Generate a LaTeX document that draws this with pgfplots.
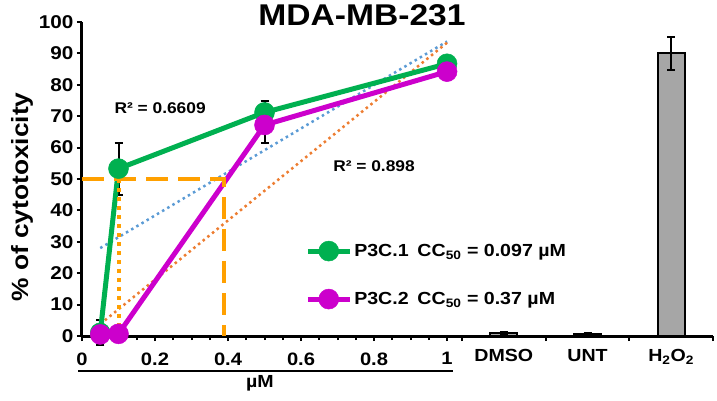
\documentclass[border=0pt]{standalone}
\usepackage{pgfplots}
\pgfplotsset{compat=1.18}
\usepackage{fontspec}
\setmainfont{Liberation Sans}[FakeStretch=1.12]
\definecolor{pgreen}{RGB}{0,176,80}
\definecolor{pmag}{RGB}{204,0,204}
\definecolor{tblue}{RGB}{91,155,213}
\definecolor{torange}{RGB}{237,125,49}
\definecolor{ccor}{RGB}{255,160,0}
\definecolor{barg}{RGB}{166,166,166}
\begin{document}
\begin{tikzpicture}
\path[use as bounding box] (-82pt,-64pt) rectangle (635pt,336pt);
\begin{axis}[
  at={(0pt,0pt)}, anchor=south west, scale only axis,
  width=380pt, height=314pt,
  xmin=0, xmax=1.041, ymin=0, ymax=100,
  axis x line=bottom, axis y line=left,
  axis line style={-, line width=3pt, black},
  xtick={0,0.2,0.4,0.6,0.8,1},
  xticklabels={0,0.2,0.4,0.6,0.8,1},
  minor xtick={0.05,0.1,0.15,0.25,0.3,0.35,0.45,0.5,0.55,0.65,0.7,0.75,0.85,0.9,0.95,1.0},
  ytick={0,10,...,100},
  tick align=outside, major tick length=5pt, minor tick length=4pt,
  every tick/.style={line width=2pt, black},
  /pgf/number format/assume math mode=true,
  yticklabel style={font=\fontsize{18.5}{21}\selectfont\bfseries},
  xticklabel style={font=\fontsize{18}{21}\selectfont\bfseries, yshift=-8pt},
  clip=false,
  legend style={at={(0.587,0.194)}, anchor=west, draw=none, fill=none,
    font=\fontsize{17.5}{20}\selectfont\bfseries, row sep=28pt, inner sep=0pt},
  legend cell align=left,
  legend image code/.code={\draw[mark repeat=2,mark phase=2,#1] plot coordinates {(0pt,0pt) (21pt,0pt) (42pt,0pt)};},
]
% trendlines
\addplot[forget plot, tblue, line width=2.5pt, dash pattern=on 2.5pt off 3.5pt] coordinates {(0.05,28) (1,93.8)};
\addplot[forget plot, torange, line width=2.5pt, dash pattern=on 2.5pt off 3.5pt] coordinates {(0.05,3.8) (1,93.4)};
% error bars
\addplot[forget plot, draw=none, error bars/.cd, y dir=both, y explicit,
  error bar style={draw=black, line width=2pt},
  error mark options={draw=black, line width=2pt, rotate=90, mark size=4pt}]
  coordinates {(0.05,1) +- (0,4) (0.1,53.3) +- (0,8.3) (0.5,71.2) +- (0,3.6) (1,86.7) +- (0,1.5)};
\addplot[forget plot, draw=none, error bars/.cd, y dir=both, y explicit,
  error bar style={draw=black, line width=2pt},
  error mark options={draw=black, line width=2pt, rotate=90, mark size=4pt}]
  coordinates {(0.05,0.5) +- (0,0.5) (0.1,0.7) +- (0,0.5) (0.5,67.2) +- (0,5.8) (1,84.2) +- (0,1)};
% series
\addplot[pgreen, line width=5pt, mark=*, mark size=10pt, mark options={fill=pgreen, draw=pgreen, line width=0.5pt}]
  coordinates {(0.05,1) (0.1,53.3) (0.5,71.2) (1,86.7)};
\addlegendentry{P3C.1\enspace CC\textsubscript{50} = 0.097 µM}
\addplot[pmag, line width=5pt, mark=*, mark size=10pt, mark options={fill=pmag, draw=pmag, line width=0.5pt}]
  coordinates {(0.05,0.5) (0.1,0.7) (0.5,67.2) (1,84.2)};
\addlegendentry{P3C.2\enspace CC\textsubscript{50} = 0.37 µM}
% CC50 guides
\addplot[forget plot, ccor, line width=4pt, dash pattern=on 22pt off 10pt] coordinates {(0,50) (0.389,50) (0.389,0)};
\addplot[forget plot, ccor, line width=4pt, dash pattern=on 4pt off 5pt] coordinates {(0.1,50) (0.1,0)};
\node[font=\fontsize{15.5}{18}\selectfont\bfseries] at (axis cs:0.214,72.6) {R² = 0.6609};
\node[font=\fontsize{15.5}{18}\selectfont\bfseries] at (axis cs:0.80,54.1) {R² = 0.898};
\end{axis}
\begin{axis}[
  at={(380pt,0pt)}, anchor=south west, scale only axis,
  width=251pt, height=314pt,
  xmin=0.5, xmax=3.5, ymin=0, ymax=100,
  axis x line=bottom, axis y line=none,
  axis line style={-, line width=3pt, black},
  xtick={1,2,3}, xticklabels={DMSO,UNT,H\textsubscript{2}O\textsubscript{2}},
  minor xtick={0.5,1.5,2.5,3.5},
  tick align=outside, major tick length=0pt, minor tick length=5pt,
  every tick/.style={line width=2pt, black},
  ytick=\empty,
  xticklabel style={font=\fontsize{17.5}{20}\selectfont\bfseries, yshift=-10pt},
  clip=false,
]
\addplot[ybar, bar width=27pt, fill=barg, draw=black, line width=2pt,
  error bars/.cd, y dir=both, y explicit,
  error bar style={draw=black, line width=2pt},
  error mark options={draw=black, line width=2pt, rotate=90, mark size=4pt}]
  coordinates {(1,1) +- (0,0.4) (2,0.6) +- (0,0.3) (3,90) +- (0,5.3)};
\end{axis}
\node[font=\fontsize{30}{34}\selectfont\bfseries] at (280pt,321pt) {MDA-MB-231};
\node[rotate=90, font=\fontsize{23.5}{27}\selectfont\bfseries] at (-60pt,139pt) {\% of cytotoxicity};
\node[font=\fontsize{17.5}{20}\selectfont\bfseries] at (178pt,-47pt) {µM};
\draw[line width=2pt] (-4pt,-35pt) -- (371pt,-35pt);
\end{tikzpicture}
\end{document}
